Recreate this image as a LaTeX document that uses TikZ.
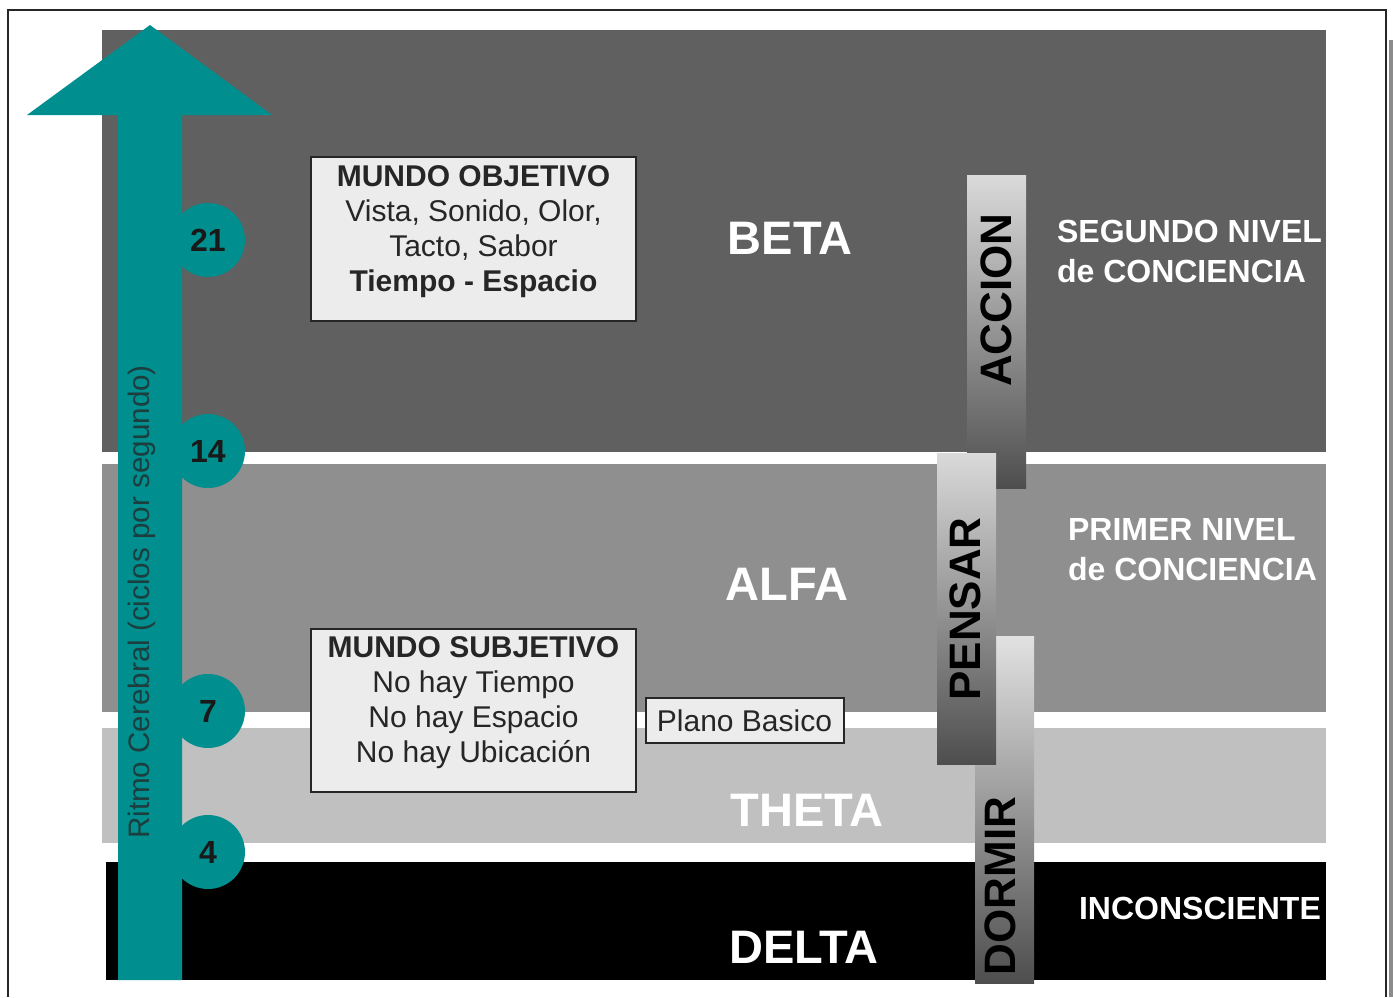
\documentclass[tikz,border=0pt]{standalone}
\usepackage{fontspec}
\setmainfont{Liberation Sans}
\usepackage{tikz}
\definecolor{ritmo}{RGB}{0,142,142}
\definecolor{betagris}{RGB}{96,96,96}
\definecolor{alfagris}{RGB}{143,143,143}
\definecolor{thetagris}{RGB}{192,192,192}
\definecolor{cajagris}{RGB}{236,236,236}
\definecolor{barclaro}{RGB}{218,218,218}
\definecolor{baroscuro}{RGB}{78,78,78}
\tikzset{banda label/.style={text=white, font=\fontsize{23.5}{27}\selectfont\bfseries},
    nivel label/.style={text=white, anchor=west, align=left,
      font=\fontsize{16}{20}\selectfont\bfseries},
    caja/.style={draw=black!85, line width=1pt, fill=cajagris},
    caja texto/.style={text=black!85, align=center, font=\fontsize{15}{17.5}\selectfont},
    ciclo/.style={circle, fill=ritmo, minimum size=37pt, inner sep=0pt,
      font=\fontsize{16}{16}\selectfont\bfseries, text=black!90},
    barra/.style={top color=barclaro, bottom color=baroscuro},
    barra texto/.style={rotate=90, text=black, font=\fontsize{22}{22}\selectfont\bfseries},}

\begin{document}
\begin{tikzpicture}[x=0.5pt, y=-0.5pt]
                    \useasboundingbox (0,0) rectangle (1393,997);
                    %Bands (one per brain rhythm):
                        \fill[betagris] (102,30) rectangle (1326,452);
                        \fill[alfagris] (102,464) rectangle (1326,712);
                        \fill[thetagris] (102,728) rectangle (1326,843);
                        \fill[black] (106,862) rectangle (1326,980);
                    %Big arrow with its marks:
                        \fill[ritmo] (118,980) -- (118,115) -- (27,115) -- (150,25)
                            -- (272,115) -- (182,115) -- (182,980) -- cycle;
                        \node[ciclo] (c21) at (208,240) {21};
                        \node[ciclo] (c14) at (208,451) {14};
                        \node[ciclo] (c7) at (208,711) {7};
                        \node[ciclo] (c4) at (208,852) {4};
                        \node[rotate=90, text={rgb,255:red,28;green,62;blue,62},
                            font=\fontsize{14.8}{15}\selectfont] (ritmo) at (142,602)
                            {Ritmo Cerebral (ciclos por segundo)};
                    %Boxes for the two worlds:
                        \draw[caja] (311,157) rectangle (636,321);
                        \node[caja texto] (objetivo) at (473.5,232) {\textbf{MUNDO OBJETIVO}\\
                            Vista, Sonido, Olor,\\ Tacto, Sabor\\ \textbf{Tiempo - Espacio}};
                        \draw[caja] (311,629) rectangle (636,792);
                        \node[caja texto] (subjetivo) at (473.5,703) {\textbf{MUNDO SUBJETIVO}\\
                            No hay Tiempo\\ No hay Espacio\\ No hay Ubicación};
                        \node[caja, caja texto, minimum width=99pt, minimum height=22.5pt,
                            inner sep=0pt] (plano) at (744.5,720.5) {Plano Basico};
                    %Band names:
                        \node[banda label] (beta) at (790,238) {BETA};
                        \node[banda label] (alfa) at (787,584) {ALFA};
                        \node[banda label] (theta) at (807,810) {THETA};
                        \node[banda label] (delta) at (804,947) {DELTA};
                    %Shaded bars (pensar goes on top):
                        \shade[barra] (967,175) rectangle (1026,488);
                        \node[barra texto] (accion) at (996,300) {ACCION};
                        \shade[barra, top color=barclaro!80!white] (975,636) rectangle (1034,983);
                        \node[barra texto] (dormir) at (1000,886) {DORMIR};
                        \shade[barra] (937,453) rectangle (996,764);
                        \node[barra texto] (pensar) at (965,609) {PENSAR};
                    %Levels on the right:
                        \node[nivel label] (segundo) at (1050,251) {SEGUNDO NIVEL\\ de CONCIENCIA};
                        \node[nivel label] (primero) at (1061,550) {PRIMER NIVEL\\ de CONCIENCIA};
                        \node[nivel label] (incons) at (1072,908) {INCONSCIENTE};
                    %Frame:
                        \draw[black!85, line width=1.2pt] (8,997) -- (8,10) -- (1386,10) -- (1386,997);
                        \fill[black!45] (1389,40) rectangle (1393,997);
                \end{tikzpicture}
\end{document}
